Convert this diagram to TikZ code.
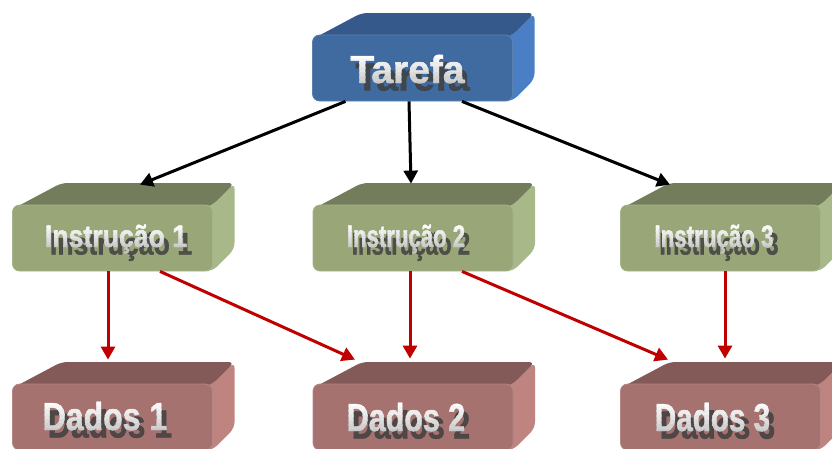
\documentclass[tikz,border=0pt]{standalone}
\usepackage{fontspec}
\newfontfamily\lblfont{Liberation Sans}[BoldFeatures={FakeBold=1.2}]
\usetikzlibrary{arrows.meta}

% colour sets for the three kinds of blocks
\definecolor{taskfront}{HTML}{3F6BA1}
\definecolor{tasktop}{HTML}{34598A}
\definecolor{taskside}{HTML}{4A7FC6}
\definecolor{instfront}{HTML}{98A678}
\definecolor{insttop}{HTML}{737D5B}
\definecolor{instside}{HTML}{A9B888}
\definecolor{datafront}{HTML}{A67270}
\definecolor{datatop}{HTML}{835A58}
\definecolor{dataside}{HTML}{BF8380}
\definecolor{flowred}{HTML}{C00000}

\tikzset{
  blockfront/.style={rectangle, rounded corners=7pt, minimum width=200pt,
    minimum height=66pt, inner sep=0pt},
  lblshadow/.style={anchor=base, inner sep=0pt, text=black!75, opacity=0.85},
  lbltext/.style={anchor=base, inner sep=0pt},
  flow/.style={line width=3pt, -{Triangle[length=13pt,width=14pt]}},
}

% #1 name, #2 centre x, #3 centre y, #4 front, #5 top, #6 side
\newcommand\cuboid[6]{%
  \begin{scope}[shift={(#2,#3)}]
    \fill[#6, rounded corners=6pt] (-10,-33) -- (0,-33) -- (100,-33) -- (122,-55)
      -- (122,11) -- (100,33) -- (90,33) -- cycle;
    \fill[#5, rounded corners=6pt] (-98,-30) -- (-51,-55) -- (122,-55)
      -- (100,-33) -- (90,-30) -- cycle;
    \node[blockfront, fill=#4, draw=#4!85!white, line width=0.8pt] (#1) at (0,0) {};
  \end{scope}}

% #1 name, #2 x, #3 baseline y, #4 font size, #5 horizontal scale, #6 text
\newcommand\gradlabel[6]{%
  \node[lblshadow, font=\lblfont\bfseries\fontsize{#4}{#4}\selectfont]
    (#1-s) at (#2+5,#3+7.5) {\scalebox{#5}[1]{#6}};
  \foreach \i in {0,...,8}{%
    \pgfmathsetmacro\ya{#3-0.76*#4+\i*0.12*#4}%
    \pgfmathsetmacro\yb{\ya+0.12*#4+0.6}%
    \pgfmathtruncatemacro\pct{100-7*\i}%
    \begin{scope}
      \clip (#2-160,\ya) rectangle (#2+160,\yb);
      \node[lbltext, text={white!\pct!gray},
        font=\lblfont\bfseries\fontsize{#4}{#4}\selectfont]
        (#1-\i) at (#2,#3) {\scalebox{#5}[1]{#6}};
    \end{scope}}}

\begin{document}
\begin{tikzpicture}[x=1pt, y=-1pt]
  \useasboundingbox[fill=white] (0,0) rectangle (832,448);

  % blocks
  \cuboid{t}{412.5}{68}{taskfront}{tasktop}{taskside}
  \cuboid{i1}{112.5}{238}{instfront}{insttop}{instside}
  \cuboid{i2}{413}{238}{instfront}{insttop}{instside}
  \cuboid{i3}{720.5}{238}{instfront}{insttop}{instside}
  \cuboid{d1}{112.5}{417}{datafront}{datatop}{dataside}
  \cuboid{d2}{413}{417}{datafront}{datatop}{dataside}
  \cuboid{d3}{720.5}{417}{datafront}{datatop}{dataside}

  % labels
  \gradlabel{lt}{407.5}{83}{39}{1.0}{Tarefa}
  \gradlabel{li1}{116}{247}{31}{0.86}{Instrução 1}
  \gradlabel{li2}{406}{247}{31}{0.715}{Instrução 2}
  \gradlabel{li3}{714}{247}{31}{0.72}{Instrução 3}
  \gradlabel{ld1}{105}{430}{39}{0.82}{Dados 1}
  \gradlabel{ld2}{406}{431}{39}{0.78}{Dados 2}
  \gradlabel{ld3}{712.5}{431}{39}{0.76}{Dados 3}

  % task to instructions
  \draw[flow, black] ([xshift=-67pt]t.south) -- ([shift={(27.5,-20)}]i1.north);
  \draw[flow, black] ([xshift=-3.5pt]t.south) -- ([shift={(-2,-21)}]i2.north);
  \draw[flow, black] ([xshift=49.5pt]t.south) -- ([shift={(-50.5,-20)}]i3.north);

  % instructions to data
  \draw[flow, flowred] ([xshift=-4.5pt]i1.south) -- ([shift={(-4.5,-24)}]d1.north);
  \draw[flow, flowred] ([xshift=47.5pt]i1.south) -- ([shift={(-58,-24)}]d2.north);
  \draw[flow, flowred] ([xshift=-3pt]i2.south) -- ([shift={(-3,-25)}]d2.north);
  \draw[flow, flowred] ([xshift=49pt]i2.south) -- ([shift={(-52.5,-24)}]d3.north);
  \draw[flow, flowred] ([xshift=4.5pt]i3.south) -- ([shift={(4.5,-25)}]d3.north);
\end{tikzpicture}
\end{document}
